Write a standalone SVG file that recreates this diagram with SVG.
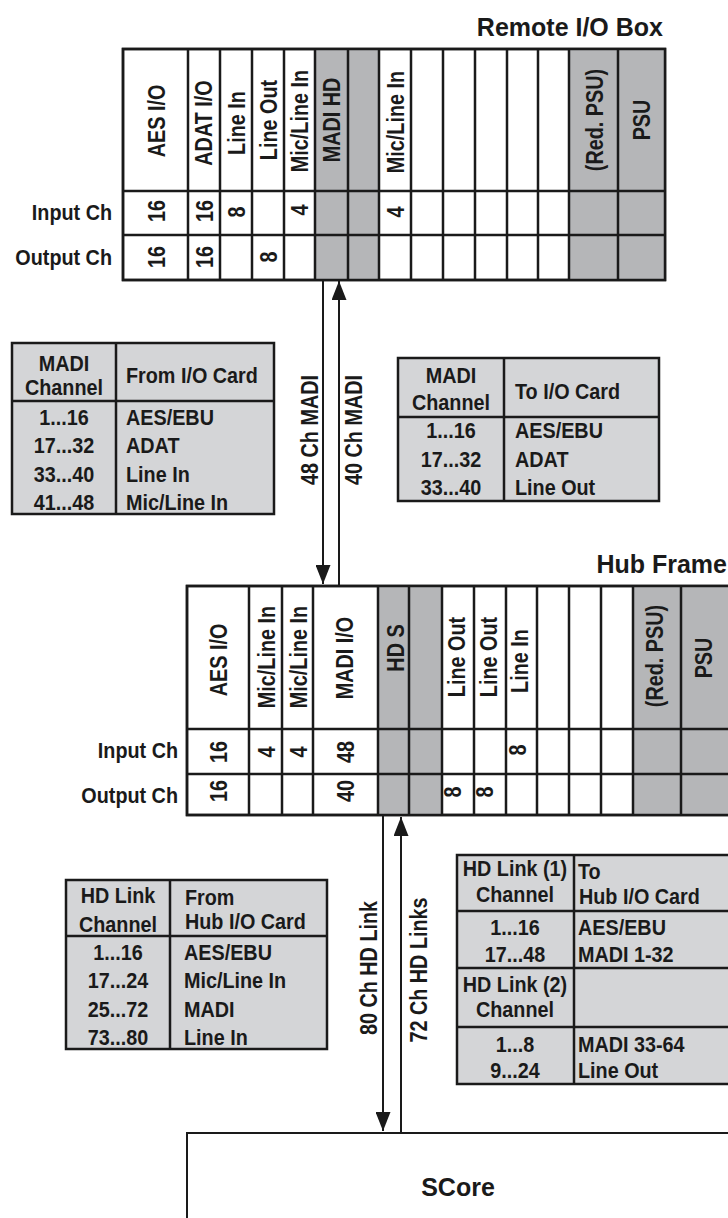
<svg xmlns="http://www.w3.org/2000/svg" width="728" height="1218" viewBox="0 0 728 1218">
<defs>
<style>
.t{font-family:"Liberation Sans",Arial,sans-serif;font-weight:bold;font-size:22px;fill:#1a1a1a}
.m{text-anchor:middle}
.e{text-anchor:end}
.ttl{font-size:25px}
.grid{fill:none;stroke:#1a1a1a;stroke-width:2.5}
.frame{fill:#ffffff;stroke:#1a1a1a;stroke-width:2.5}
.gray{fill:#b5b6b8}
.tbl{fill:#d4d5d7;stroke:#1a1a1a;stroke-width:2.5}
.link{fill:none;stroke:#1a1a1a;stroke-width:2}
</style>
<marker id="arr" markerUnits="userSpaceOnUse" markerWidth="20" markerHeight="15" refX="19" refY="7.5" orient="auto">
<path d="M0,0 L19,7.5 L0,15 Z" fill="#1a1a1a"/>
</marker>
</defs>

<!-- Remote I/O Box -->
<g id="remote-io-box">
<text class="t ttl e" x="663" y="36">Remote I/O Box</text>
<rect class="frame" x="123" y="49" width="542" height="231"/>
<rect class="gray" x="315" y="49" width="64" height="231"/>
<rect class="gray" x="569" y="49" width="96" height="231"/>
<path class="grid" d="M123,49H665V280H123Z M188,49V280 M220,49V280 M252,49V280 M284,49V280 M315,49V280 M348,49V280 M379,49V280 M411,49V280 M443,49V280 M475,49V280 M507,49V280 M538,49V280 M569,49V280 M618,49V280 M123,191H665 M123,235H665"/>
<text class="t m" transform="translate(165,121) rotate(-90) scale(0.9,1.12)">AES I/O</text>
<text class="t m" transform="translate(212,123) rotate(-90) scale(0.9,1.12)">ADAT I/O</text>
<text class="t m" transform="translate(245,123) rotate(-90) scale(0.9,1.12)">Line In</text>
<text class="t m" transform="translate(277,120) rotate(-90) scale(0.9,1.12)">Line Out</text>
<text class="t m" transform="translate(308,121) rotate(-90) scale(0.9,1.12)">Mic/Line In</text>
<text class="t m" transform="translate(340,120) rotate(-90) scale(0.9,1.12)">MADI HD</text>
<text class="t m" transform="translate(404,122) rotate(-90) scale(0.9,1.12)">Mic/Line In</text>
<text class="t m" transform="translate(603,120) rotate(-90) scale(0.9,1.12)">(Red. PSU)</text>
<text class="t m" transform="translate(650,120) rotate(-90) scale(0.9,1.12)">PSU</text>
<text class="t e" transform="translate(112,220) scale(0.9,1)">Input Ch</text>
<text class="t e" transform="translate(112,265) scale(0.9,1)">Output Ch</text>
<text class="t m" transform="translate(165,211) rotate(-90) scale(0.9,1.12)">16</text>
<text class="t m" transform="translate(213,211) rotate(-90) scale(0.9,1.12)">16</text>
<text class="t m" transform="translate(245,212) rotate(-90) scale(0.9,1.12)">8</text>
<text class="t m" transform="translate(308,210) rotate(-90) scale(0.9,1.12)">4</text>
<text class="t m" transform="translate(404,212) rotate(-90) scale(0.9,1.12)">4</text>
<text class="t m" transform="translate(165,257) rotate(-90) scale(0.9,1.12)">16</text>
<text class="t m" transform="translate(213,257) rotate(-90) scale(0.9,1.12)">16</text>
<text class="t m" transform="translate(277,257) rotate(-90) scale(0.9,1.12)">8</text>
</g>

<!-- MADI from I/O card table -->
<g id="madi-from-table">
<rect class="tbl" x="12" y="343" width="262" height="171"/>
<path class="grid" d="M116,343V514 M12,401H274"/>
<text class="t m" transform="translate(64,371) scale(0.9,1)">MADI</text>
<text class="t m" transform="translate(64,395) scale(0.9,1)">Channel</text>
<text class="t" transform="translate(126,383) scale(0.9,1)">From I/O Card</text>
<text class="t m" transform="translate(64,425) scale(0.9,1)">1...16</text>
<text class="t m" transform="translate(64,453) scale(0.9,1)">17...32</text>
<text class="t m" transform="translate(64,482) scale(0.9,1)">33...40</text>
<text class="t m" transform="translate(64,510) scale(0.9,1)">41...48</text>
<text class="t" transform="translate(126,425) scale(0.9,1)">AES/EBU</text>
<text class="t" transform="translate(126,453) scale(0.9,1)">ADAT</text>
<text class="t" transform="translate(126,482) scale(0.9,1)">Line In</text>
<text class="t" transform="translate(126,510) scale(0.9,1)">Mic/Line In</text>
</g>

<!-- MADI to I/O card table -->
<g id="madi-to-table">
<rect class="tbl" x="398" y="358" width="261" height="143"/>
<path class="grid" d="M504,358V501 M398,417H659"/>
<text class="t m" transform="translate(451,383) scale(0.9,1)">MADI</text>
<text class="t m" transform="translate(451,410) scale(0.9,1)">Channel</text>
<text class="t" transform="translate(515,399) scale(0.9,1)">To I/O Card</text>
<text class="t m" transform="translate(451,438) scale(0.9,1)">1...16</text>
<text class="t m" transform="translate(451,467) scale(0.9,1)">17...32</text>
<text class="t m" transform="translate(451,495) scale(0.9,1)">33...40</text>
<text class="t" transform="translate(515,438) scale(0.9,1)">AES/EBU</text>
<text class="t" transform="translate(515,467) scale(0.9,1)">ADAT</text>
<text class="t" transform="translate(515,495) scale(0.9,1)">Line Out</text>
</g>

<!-- Hub Frame -->
<g id="hub-frame">
<text class="t ttl e" x="727" y="573">Hub Frame</text>
<rect class="frame" x="187" y="586" width="543" height="229"/>
<rect class="gray" x="378" y="586" width="64" height="229"/>
<rect class="gray" x="633" y="586" width="97" height="229"/>
<path class="grid" d="M730,586H187V815H730 M249,586V815 M282,586V815 M313,586V815 M378,586V815 M409,586V815 M442,586V815 M474,586V815 M506,586V815 M537,586V815 M569,586V815 M601,586V815 M633,586V815 M681,586V815 M187,729H730 M187,774H730"/>
<text class="t m" transform="translate(227,660) rotate(-90) scale(0.9,1.12)">AES I/O</text>
<text class="t m" transform="translate(275,657) rotate(-90) scale(0.9,1.12)">Mic/Line In</text>
<text class="t m" transform="translate(307,657) rotate(-90) scale(0.9,1.12)">Mic/Line In</text>
<text class="t m" transform="translate(353,658) rotate(-90) scale(0.9,1.12)">MADI I/O</text>
<text class="t m" transform="translate(404,648) rotate(-90) scale(0.9,1.12)">HD S</text>
<text class="t m" transform="translate(465,657) rotate(-90) scale(0.9,1.12)">Line Out</text>
<text class="t m" transform="translate(497,657) rotate(-90) scale(0.9,1.12)">Line Out</text>
<text class="t m" transform="translate(528,661) rotate(-90) scale(0.9,1.12)">Line In</text>
<text class="t m" transform="translate(663,656) rotate(-90) scale(0.9,1.12)">(Red. PSU)</text>
<text class="t m" transform="translate(712,658) rotate(-90) scale(0.9,1.12)">PSU</text>
<text class="t e" transform="translate(178,758) scale(0.9,1)">Input Ch</text>
<text class="t e" transform="translate(178,803) scale(0.9,1)">Output Ch</text>
<text class="t m" transform="translate(227,752) rotate(-90) scale(0.9,1.12)">16</text>
<text class="t m" transform="translate(275,752) rotate(-90) scale(0.9,1.12)">4</text>
<text class="t m" transform="translate(307,752) rotate(-90) scale(0.9,1.12)">4</text>
<text class="t m" transform="translate(354,752) rotate(-90) scale(0.9,1.12)">48</text>
<text class="t m" transform="translate(526,750) rotate(-90) scale(0.9,1.12)">8</text>
<text class="t m" transform="translate(227,791) rotate(-90) scale(0.9,1.12)">16</text>
<text class="t m" transform="translate(354,791) rotate(-90) scale(0.9,1.12)">40</text>
<text class="t m" transform="translate(461,792) rotate(-90) scale(0.9,1.12)">8</text>
<text class="t m" transform="translate(493,792) rotate(-90) scale(0.9,1.12)">8</text>
</g>

<!-- HD Link from hub table -->
<g id="hd-from-table">
<rect class="tbl" x="66" y="880" width="261" height="169"/>
<path class="grid" d="M170,880V1049 M66,936H327"/>
<text class="t m" transform="translate(118,903) scale(0.9,1)">HD Link</text>
<text class="t m" transform="translate(118,932) scale(0.9,1)">Channel</text>
<text class="t" transform="translate(185,905) scale(0.9,1)">From</text>
<text class="t" transform="translate(185,929) scale(0.9,1)">Hub I/O Card</text>
<text class="t m" transform="translate(118,960) scale(0.9,1)">1...16</text>
<text class="t m" transform="translate(118,988) scale(0.9,1)">17...24</text>
<text class="t m" transform="translate(118,1017) scale(0.9,1)">25...72</text>
<text class="t m" transform="translate(118,1045) scale(0.9,1)">73...80</text>
<text class="t" transform="translate(184,960) scale(0.9,1)">AES/EBU</text>
<text class="t" transform="translate(184,988) scale(0.9,1)">Mic/Line In</text>
<text class="t" transform="translate(184,1017) scale(0.9,1)">MADI</text>
<text class="t" transform="translate(184,1045) scale(0.9,1)">Line In</text>
</g>

<!-- HD Link to hub table -->
<g id="hd-to-table">
<path class="tbl" d="M730,855H457V1084H730"/>
<path class="grid" d="M574,855V1084 M457,911H730 M457,968H730 M457,1027H730"/>
<text class="t m" transform="translate(515,876) scale(0.9,1)">HD Link (1)</text>
<text class="t m" transform="translate(515,902) scale(0.9,1)">Channel</text>
<text class="t" transform="translate(578,879) scale(0.9,1)">To</text>
<text class="t" transform="translate(579,904) scale(0.9,1)">Hub I/O Card</text>
<text class="t m" transform="translate(515,935) scale(0.9,1)">1...16</text>
<text class="t m" transform="translate(515,962) scale(0.9,1)">17...48</text>
<text class="t" transform="translate(578,935) scale(0.9,1)">AES/EBU</text>
<text class="t" transform="translate(578,962) scale(0.9,1)">MADI 1-32</text>
<text class="t m" transform="translate(515,992) scale(0.9,1)">HD Link (2)</text>
<text class="t m" transform="translate(515,1017) scale(0.9,1)">Channel</text>
<text class="t m" transform="translate(515,1052) scale(0.9,1)">1...8</text>
<text class="t m" transform="translate(515,1078) scale(0.9,1)">9...24</text>
<text class="t" transform="translate(578,1052) scale(0.9,1)">MADI 33-64</text>
<text class="t" transform="translate(578,1078) scale(0.9,1)">Line Out</text>
</g>

<!-- SCore -->
<g id="score">
<rect x="187" y="1133" width="560" height="120" fill="#ffffff" stroke="#1a1a1a" stroke-width="2"/>
<text class="t ttl m" x="458" y="1196">SCore</text>
</g>

<!-- Connectors -->
<g id="connectors">
<line class="link" x1="323" y1="280" x2="323" y2="584" marker-end="url(#arr)"/>
<line class="link" x1="339" y1="586" x2="339" y2="281" marker-end="url(#arr)"/>
<line class="link" x1="383" y1="815" x2="383" y2="1131" marker-end="url(#arr)"/>
<line class="link" x1="401" y1="1133" x2="401" y2="817" marker-end="url(#arr)"/>
<text class="t m" transform="translate(318,430) rotate(-90) scale(0.9,1.12)">48 Ch MADI</text>
<text class="t m" transform="translate(362,430) rotate(-90) scale(0.9,1.12)">40 Ch MADI</text>
<text class="t m" transform="translate(377,968) rotate(-90) scale(0.9,1.12)">80 Ch HD Link</text>
<text class="t m" transform="translate(427,970) rotate(-90) scale(0.9,1.12)">72 Ch HD Links</text>
</g>
</svg>
